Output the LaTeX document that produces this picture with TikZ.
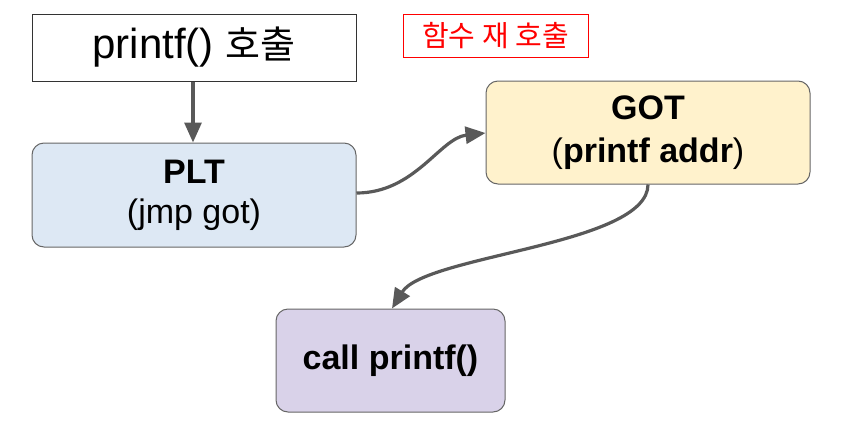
\documentclass[tikz,border=0pt]{standalone}
\usepackage{fontspec}
\setmainfont{Liberation Sans}
\newfontfamily\kr{Noto Sans CJK KR}
\usetikzlibrary{arrows.meta}
\definecolor{pltfill}{HTML}{DDE8F4}
\definecolor{gotfill}{HTML}{FFF2CC}
\definecolor{callfill}{HTML}{D9D2E9}
\definecolor{edgegray}{HTML}{595959}
\definecolor{boxline}{HTML}{666666}
\begin{document}
\begin{tikzpicture}[x=1pt,y=-1pt,
  rbox/.style={draw=boxline,line width=1pt,rounded corners=12pt,align=center,inner sep=0pt},
  conn/.style={draw=edgegray,line width=3.2pt,-{Triangle[length=20pt,width=17pt]}}]
\useasboundingbox (0,0) rectangle (846,429);
\node[draw=black!80,line width=1pt,minimum width=324pt,minimum height=67pt,inner sep=0pt,
  font=\fontsize{42}{46}\selectfont] (call0) at (194,47.5) {printf() {\kr\fontsize{38}{46}\selectfont 호출}};
\node[draw=red,line width=1pt,minimum width=185pt,minimum height=43pt,inner sep=0pt,
  text=red,font=\kr\fontsize{29}{32}\selectfont] (lbl) at (495.5,35.5) {함수 재 호출};
\node[rbox,fill=pltfill,minimum width=324pt,minimum height=104pt,
  font=\fontsize{34}{40}\selectfont] (plt) at (194,195) {\textbf{PLT}\\(jmp got)};
\node[rbox,fill=gotfill,minimum width=324pt,minimum height=103pt,
  font=\fontsize{34}{43}\selectfont] (got) at (648,132.5) {\textbf{GOT}\\(\textbf{printf addr})};
\node[rbox,fill=callfill,minimum width=229pt,minimum height=103pt,
  font=\fontsize{34}{38}\selectfont] (callp) at (390.5,360.5) {\textbf{call printf()}};
\draw[conn] (call0.south -| 193,0) -- (plt.north -| 193,0);
\draw[conn] (plt.east |- 0,193) .. controls (415,193) and (440,138) .. (got.west |- 0,133);
\draw[conn] (got.south) .. controls (648,245) and (425,255) .. (callp.north -| 392,0);
\end{tikzpicture}
\end{document}
